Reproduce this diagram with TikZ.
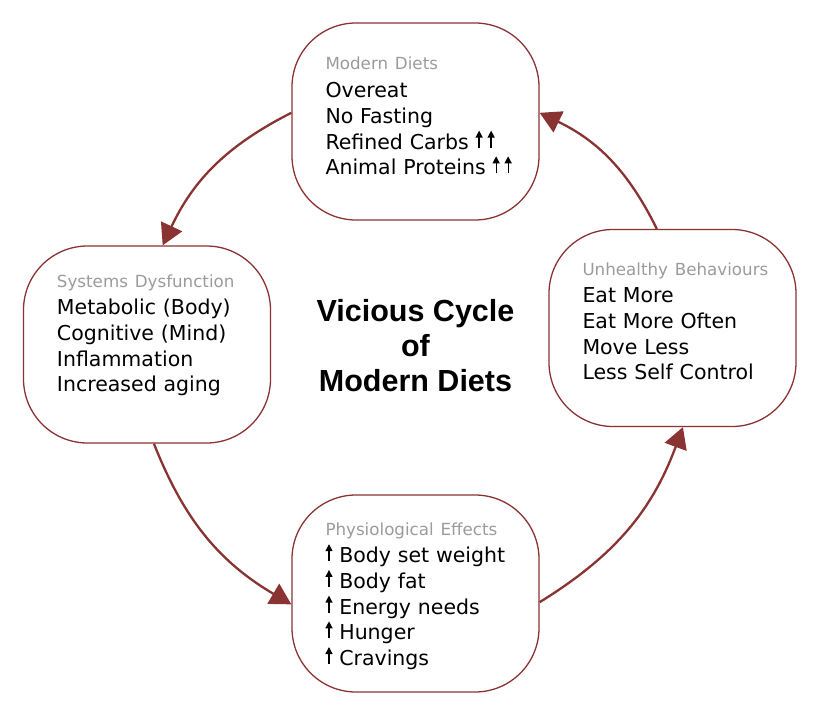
\documentclass[tikz,border=0pt]{standalone}
\usepackage{fontspec}
\setmainfont{DejaVu Sans}
\newfontfamily\titlefont{Liberation Sans}
\usetikzlibrary{arrows.meta}
\definecolor{cyclered}{RGB}{137,51,51}
\definecolor{headgray}{RGB}{155,155,155}
\newcommand{\boxhead}[1]{\mbox{\color{headgray}\fontsize{16.7bp}{20bp}\selectfont #1}\\[2bp]}
\newcommand{\up}{\tikz[baseline=-1.5bp]\draw[line width=1.3bp,-{Triangle[length=7bp,width=7bp]}] (0,0) -- (0,17bp);}

\begin{document}
\begin{tikzpicture}[x=1bp,y=1bp,
  stage/.style = {rectangle,draw=cyclered,line width=1.3bp,rounded corners=64bp,
    minimum width=247bp,minimum height=197bp,text width=180bp,align=left,
    text height=0bp,text depth=#1,font=\fontsize{20.5bp}{25.7bp}\selectfont},
  stage/.default = 110bp,
  link/.style = {draw=cyclered,line width=2.3bp,-{Triangle[length=21bp,width=23bp]}}]
\useasboundingbox (0,0) rectangle (820,-726);
\node[stage=103bp] (diets) at (415.5,-121.5) {\boxhead{Modern Diets}Overeat\\No Fasting\\\mbox{Refined Carbs \up\hspace{5bp}\up}\\\mbox{Animal Proteins \up\hspace{5bp}\up}};
\node[stage=115bp] (systems) at (147,-344.5) {\boxhead{Systems Dysfunction}\mbox{Metabolic (Body)}\\\mbox{Cognitive (Mind)}\\Inflammation\\Increased aging};
\node[stage=106bp] (behaviours) at (672.5,-328) {\boxhead{Unhealthy Behaviours}Eat More\\\mbox{Eat More Often}\\Move Less\\\mbox{Less Self Control}};
\node[stage=117bp] (effects) at (415.5,-593.5) {\boxhead{Physiological Effects}\mbox{\up\ Body set weight}\\\up\ Body fat\\\mbox{\up\ Energy needs}\\\up\ Hunger\\\up\ Cravings};
\node[font=\titlefont\bfseries\fontsize{30.5bp}{35bp}\selectfont,align=center] (title) at (415.5,-346) {Vicious Cycle\\of\\Modern Diets};
\foreach \a/\i/\b/\j in {diets/176/systems/81, systems/274/effects/185, effects/356/behaviours/276, behaviours/99/diets/4}
    \draw[link] (\a.\i) to[bend right=19] (\b.\j);
\end{tikzpicture}
\end{document}
